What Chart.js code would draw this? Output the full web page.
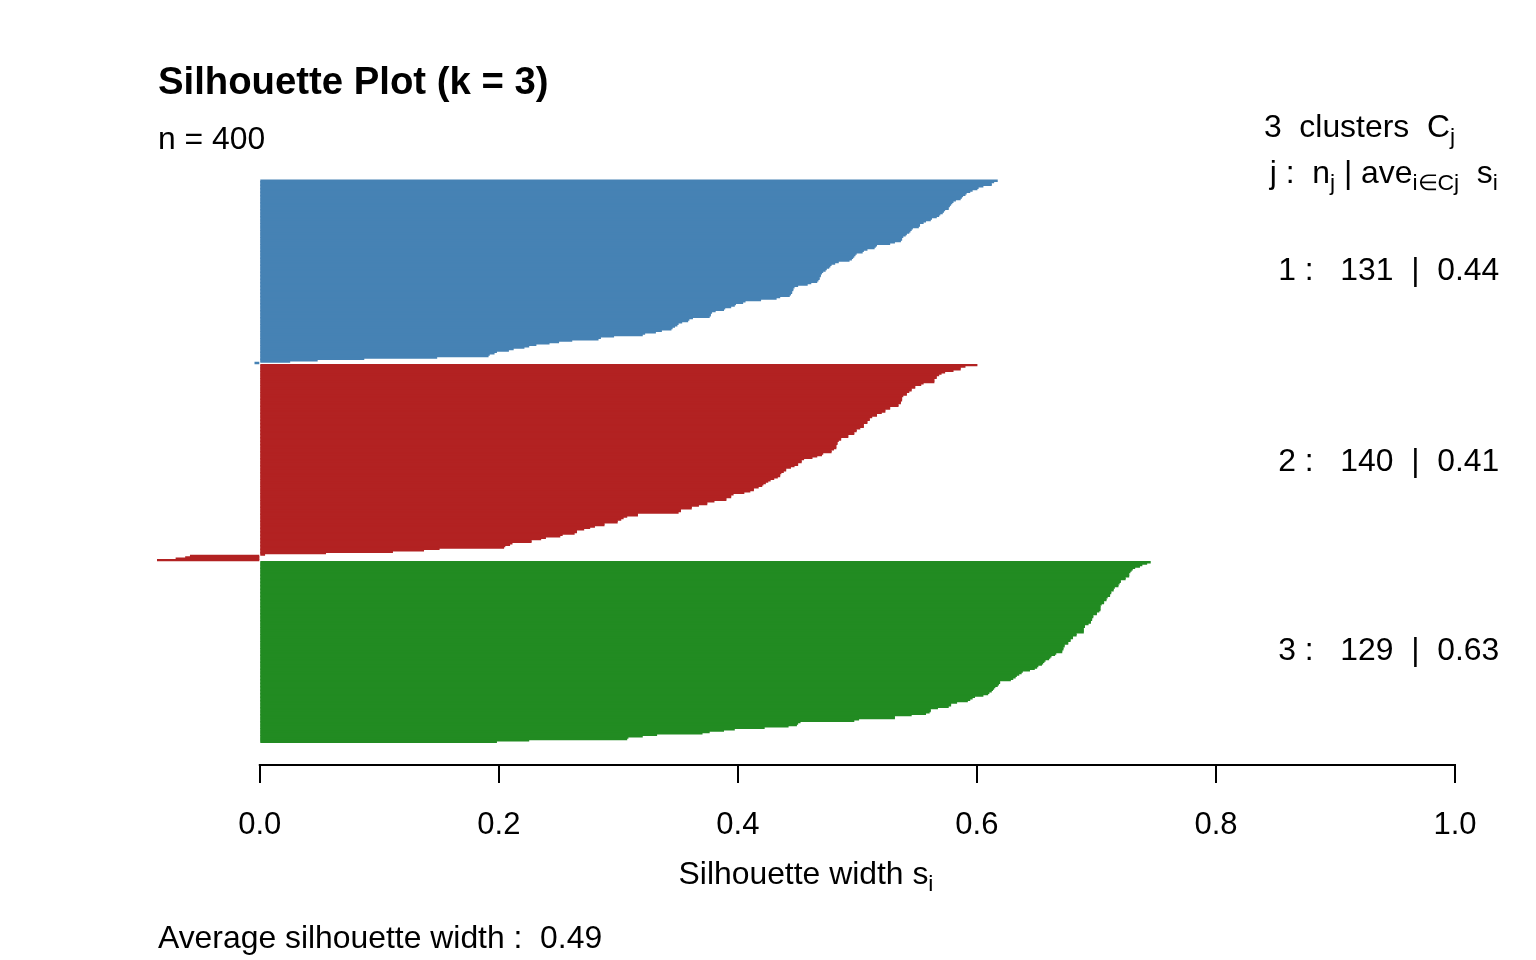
<!DOCTYPE html>
<html>
<head>
<meta charset="utf-8">
<title>Silhouette Plot (k = 3)</title>
<script src="https://cdn.jsdelivr.net/npm/chart.js@4.4.0/dist/chart.umd.min.js"></script>
<style>
  html, body { margin: 0; padding: 0; background: #ffffff; }
  #silChart { display: block; }
</style>
</head>
<body>
<canvas id="silChart" width="1536" height="960"></canvas>
<script>
var clusterIds = [1, 2, 3];
var clusterColors = ['#4682B4', '#B22222', '#228B22'];
var clusterAvg = [0.44, 0.41, 0.63];
var avgWidth = 0.49;
var tickValues = [0, 0.2, 0.4, 0.6, 0.8, 1.0];

var sil1 = [
  0.617, 0.614, 0.612, 0.612, 0.605, 0.601, 0.600, 0.596, 0.594, 0.591,
  0.590, 0.588, 0.587, 0.586, 0.582, 0.580, 0.579, 0.578, 0.577, 0.576,
  0.576, 0.573, 0.572, 0.571, 0.569, 0.568, 0.566, 0.562, 0.561, 0.557,
  0.555, 0.552, 0.552, 0.551, 0.546, 0.545, 0.544, 0.543, 0.541, 0.540,
  0.538, 0.537, 0.537, 0.536, 0.531, 0.527, 0.516, 0.515, 0.514, 0.508,
  0.505, 0.504, 0.499, 0.498, 0.497, 0.496, 0.495, 0.493, 0.484, 0.481,
  0.478, 0.477, 0.476, 0.474, 0.473, 0.471, 0.470, 0.469,
  0.469, 0.468, 0.468, 0.467, 0.466, 0.461, 0.458, 0.450, 0.447, 0.446,
  0.446, 0.445, 0.445, 0.444, 0.443, 0.435, 0.432, 0.419, 0.406, 0.404,
  0.398, 0.397, 0.394, 0.389, 0.388, 0.381, 0.378, 0.377, 0.377, 0.376,
  0.362, 0.359, 0.358, 0.353, 0.350, 0.349, 0.347, 0.345, 0.344, 0.336,
  0.331, 0.322, 0.320, 0.296, 0.285, 0.283, 0.261, 0.250, 0.242, 0.231,
  0.225, 0.221, 0.212, 0.208, 0.198, 0.196, 0.192, 0.191, 0.148, 0.087,
  0.048, 0.025, -0.004
];

var sil2 = [
  0.600, 0.590, 0.586, 0.586, 0.580, 0.573, 0.570, 0.568, 0.566, 0.566,
  0.564, 0.564, 0.564, 0.555, 0.553, 0.548, 0.548, 0.545, 0.545, 0.543,
  0.541, 0.541, 0.538, 0.537, 0.537, 0.537, 0.536, 0.536, 0.534, 0.534,
  0.527, 0.527, 0.523, 0.523, 0.520, 0.516, 0.516, 0.512, 0.510, 0.510,
  0.508, 0.508, 0.505, 0.505, 0.505, 0.502, 0.499, 0.499, 0.497, 0.497,
  0.492, 0.492, 0.486, 0.486, 0.484, 0.483, 0.483, 0.482, 0.482, 0.482,
  0.480, 0.478, 0.478, 0.471, 0.470, 0.466, 0.462, 0.455, 0.453, 0.453,
  0.450, 0.450, 0.447, 0.444, 0.440, 0.440, 0.438, 0.436, 0.435, 0.435,
  0.433, 0.430, 0.427, 0.425, 0.423, 0.421, 0.420, 0.417, 0.413, 0.413,
  0.410, 0.405, 0.396, 0.394, 0.394, 0.390, 0.390, 0.380, 0.374, 0.374,
  0.367, 0.361, 0.361, 0.352, 0.352, 0.350, 0.316, 0.316, 0.307, 0.304,
  0.302, 0.299, 0.299, 0.288, 0.288, 0.280, 0.276, 0.271, 0.265, 0.265,
  0.263, 0.253, 0.251, 0.239, 0.235, 0.227, 0.227, 0.211, 0.209, 0.205,
  0.204, 0.150, 0.137, 0.111, 0.055, 0.004, -0.058, -0.062, -0.070, -0.086
];

var sil3 = [
  0.745, 0.742, 0.738, 0.736, 0.732, 0.730, 0.729, 0.728, 0.727, 0.727,
  0.727, 0.724, 0.724, 0.720, 0.720, 0.719, 0.718, 0.718, 0.715, 0.714,
  0.714, 0.712, 0.712, 0.711, 0.711, 0.709, 0.708, 0.708, 0.706, 0.706,
  0.704, 0.703, 0.703, 0.703, 0.703, 0.702, 0.700, 0.700, 0.697, 0.697,
  0.696, 0.696, 0.695, 0.695, 0.693, 0.690, 0.690, 0.689, 0.689, 0.689,
  0.689, 0.683, 0.683, 0.680, 0.680, 0.678, 0.678, 0.676, 0.676, 0.673,
  0.673, 0.672, 0.672, 0.671, 0.671, 0.666, 0.665,
  0.662, 0.661, 0.660, 0.657, 0.656, 0.655, 0.654, 0.651, 0.650, 0.648,
  0.644, 0.638, 0.637, 0.635, 0.633, 0.632, 0.630, 0.628, 0.619, 0.619,
  0.618, 0.617, 0.615,
  0.614, 0.613, 0.612, 0.610, 0.609, 0.605, 0.598, 0.596, 0.594, 0.592,
  0.583, 0.578, 0.578, 0.576, 0.567, 0.561, 0.561, 0.560, 0.557, 0.545,
  0.531, 0.531, 0.501, 0.497, 0.452, 0.450, 0.449, 0.442, 0.422, 0.397,
  0.388, 0.376, 0.370, 0.332, 0.320, 0.308, 0.307, 0.225, 0.198
];

var silByCluster = [sil1, sil2, sil3];

// bar positions like R's barplot: width 1, no space inside a cluster, 0.5 between clusters
var points = [];
var barColors = [];
var clusterMid = [];
var pos = 0;
silByCluster.forEach(function (vals, c) {
  if (c > 0) pos += 0.5;
  var first = pos;
  vals.forEach(function (v) {
    points.push({ x: v, y: pos + 0.5 });
    barColors.push(clusterColors[c]);
    pos += 1;
  });
  clusterMid.push((first + pos) / 2);
});
var totalPos = pos;
var yPad = totalPos * 0.04;
var nTotal = points.length;
var xMin = Math.min(0, Math.min.apply(null, points.map(function (p) { return p.x; })));

var FONT = "'Liberation Sans', Arial, Helvetica, sans-serif";
var TXT = 30.5;      // normal text size
var HSTRETCH = 1.045; // R's text comes out a bit wider than Arial
var SUB = 0.72;      // subscript size

function textWidth(ctx, parts, size, bold, stretch) {
  var w = 0;
  parts.forEach(function (p) {
    ctx.font = (bold ? 'bold ' : '') + (p[1] ? size * SUB : size) + 'px ' + FONT;
    w += ctx.measureText(p[0]).width * stretch;
  });
  return w;
}

// parts = list of [text, isSubscript]
function drawParts(ctx, parts, left, baseline, size, bold, stretch) {
  var cx = left;
  parts.forEach(function (p) {
    var s = p[1] ? size * SUB : size;
    ctx.font = (bold ? 'bold ' : '') + s + 'px ' + FONT;
    var w = ctx.measureText(p[0]).width * stretch;
    ctx.save();
    ctx.translate(cx, p[1] ? baseline + size * 0.24 : baseline);
    ctx.scale(stretch, 1);
    ctx.fillText(p[0], 0, 0);
    ctx.restore();
    cx += w;
  });
}

var silhouetteText = {
  id: 'silhouetteText',
  afterDraw: function (chart) {
    var ctx = chart.ctx;
    var xs = chart.scales.x;
    var ys = chart.scales.y;
    var area = chart.chartArea;
    var H = HSTRETCH;
    ctx.save();
    ctx.fillStyle = '#000000';
    ctx.strokeStyle = '#000000';
    ctx.textAlign = 'left';
    ctx.textBaseline = 'alphabetic';

    // axis line only from first to last tick, like R's axis()
    ctx.lineWidth = 2;
    ctx.beginPath();
    ctx.moveTo(xs.getPixelForValue(tickValues[0]) - 1, area.bottom);
    ctx.lineTo(xs.getPixelForValue(tickValues[tickValues.length - 1]) + 1, area.bottom);
    ctx.stroke();

    // title and n
    drawParts(ctx, [['Silhouette Plot (k = ' + clusterIds.length + ')', false]], area.left + 1, 94, 38.3, true, 1);
    drawParts(ctx, [['n = ' + nTotal, false]], area.left + 1, 149, TXT, false, H);

    // header at the right
    var head1 = [[clusterIds.length + '  clusters  C', false], ['j', true]];
    drawParts(ctx, head1, xs.getPixelForValue(1) - textWidth(ctx, head1, TXT, false, H), 137, TXT, false, H);
    var head2 = [['j :  n', false], ['j', true], [' | ave', false], ['i\u2208Cj', true], ['  s', false], ['i', true]];
    var w2 = textWidth(ctx, head2, TXT, false, H);
    var anchor = area.left + 1.04 * (area.right - area.left);
    drawParts(ctx, head2, anchor - 1.04 * w2, 183, TXT, false, H);

    // per cluster: j : n_j | average
    clusterIds.forEach(function (id, c) {
      var lab = [[id + ' :   ' + silByCluster[c].length + '  |  ' + clusterAvg[c].toFixed(2), false]];
      var w = textWidth(ctx, lab, TXT, false, H);
      drawParts(ctx, lab, xs.getPixelForValue(1) - 0.8 * w, ys.getPixelForValue(clusterMid[c]) + 8, TXT, false, H);
    });

    // x axis title and average
    var xlab = [['Silhouette width s', false], ['i', true]];
    drawParts(ctx, xlab, (area.left + area.right) / 2 - textWidth(ctx, xlab, TXT, false, H) / 2, 884, TXT, false, H);
    drawParts(ctx, [['Average silhouette width :  ' + avgWidth.toFixed(2), false]], area.left + 1, 948, TXT, false, H);
    ctx.restore();
  }
};

var ctx = document.getElementById('silChart');
var silChart = new Chart(ctx, {
  type: 'bar',
  data: {
    datasets: [{
      data: points,
      backgroundColor: barColors,
      borderWidth: 0,
      categoryPercentage: 1,
      barPercentage: 1,
      inflateAmount: 0.5
    }]
  },
  options: {
    indexAxis: 'y',
    responsive: false,
    animation: false,
    layout: { padding: { left: 157, right: 81, top: 157.5, bottom: 0 } },
    plugins: {
      legend: { display: false },
      tooltip: { enabled: false }
    },
    scales: {
      y: {
        type: 'linear',
        display: false,
        reverse: true,
        offset: false,
        min: -yPad,
        max: totalPos + yPad
      },
      x: {
        type: 'linear',
        min: xMin,
        max: 1,
        offset: false,
        border: { display: false },
        grid: {
          drawOnChartArea: false,
          drawTicks: true,
          tickLength: 18,
          color: '#000000',
          lineWidth: 2,
          offset: false
        },
        ticks: {
          color: '#000000',
          font: { family: FONT, size: 31 },
          padding: 24,
          maxRotation: 0,
          autoSkip: false,
          callback: function (v) { return Number(v).toFixed(1); }
        },
        afterBuildTicks: function (scale) {
          scale.ticks = tickValues.map(function (v) { return { value: v }; });
        },
        afterFit: function (scale) {
          scale.height = 195;
        }
      }
    }
  },
  plugins: [silhouetteText]
});
</script>
</body>
</html>
